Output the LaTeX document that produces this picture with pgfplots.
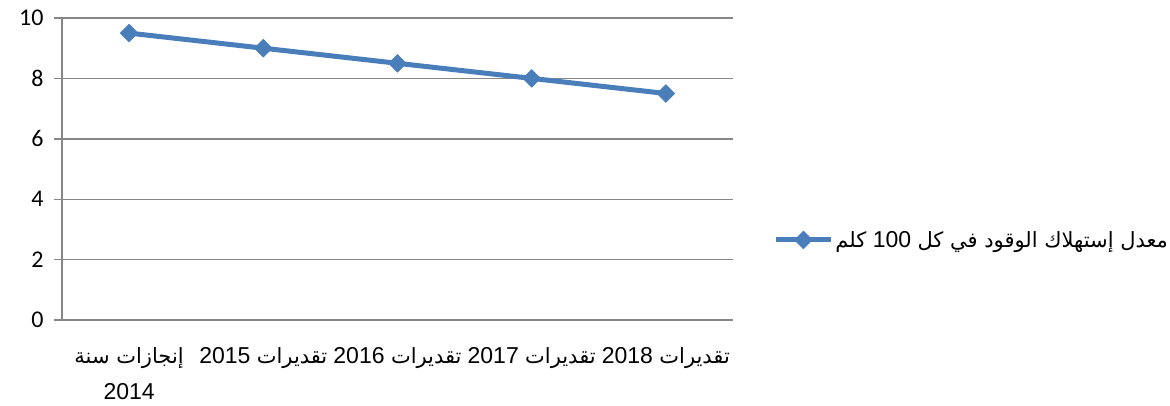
\documentclass[border=0pt]{standalone}
\usepackage{pgfplots}
\pgfplotsset{compat=1.18}
\usepackage{fontspec}
\setmainfont{Liberation Sans}
\newfontfamily\arabicfont[Script=Arabic]{DejaVu Sans}
\newfontfamily\calfont{Carlito}
\TeXXeTstate=1
\definecolor{serblue}{HTML}{4A7EBB}
\definecolor{gridgray}{HTML}{868686}
\pgfplotstableread{
x y
0 9.5
1 9.0
2 8.5
3 8.0
4 7.5
}\fueltable
\newcommand{\ar}[1]{{\arabicfont\fontsize{21}{26}\selectfont #1}}
\begin{document}
\begin{tikzpicture}
\path[use as bounding box] (0,0) rectangle (1170pt,405pt);
\begin{axis}[
  at={(62pt,85pt)}, anchor=south west,
  scale only axis, width=671pt, height=302pt,
  xmin=-0.5, xmax=4.5, ymin=0, ymax=10,
  axis x line*=bottom, axis y line*=left,
  axis line style={gridgray, line width=1.4pt, -},
  xtick={0,1,2,3,4},
  xticklabels={{\beginR\ar{إنجازات سنة}\endR\\[4pt]2014},{\beginR\ar{تقديرات} 2015\endR},{\beginR\ar{تقديرات} 2016\endR},{\beginR\ar{تقديرات} 2017\endR},{\beginR\ar{تقديرات} 2018\endR}},
  x tick style={draw=none},
  extra x ticks={-0.5,0.5,1.5,2.5,3.5,4.5},
  extra x tick labels={},
  extra x tick style={major tick length=8pt, tick align=outside, tick style={gridgray, line width=1.4pt}, grid=none},
  ytick={0,2,4,6,8,10},
  ymajorgrids,
  major grid style={gridgray, line width=1.4pt},
  y tick style={gridgray, line width=1.4pt},
  major tick length=8pt, tick align=outside,
  yticklabel style={font=\fontsize{24}{26}\selectfont\calfont, xshift=-7pt},
  xticklabel style={align=center, yshift=-16pt, font=\fontsize{23}{32}\selectfont},
  yticklabel={\pgfmathprintnumber[assume math mode=true]{\tick}},
  legend style={at={(1.06,0.265)}, anchor=west, draw=none, fill=none, font=\fontsize{23}{26}\selectfont, inner sep=0pt},
  legend cell align=left,
  legend image code/.code={\draw[#1, mark repeat=2, mark phase=2] plot coordinates {(0pt,0pt)(27.5pt,0pt)(55pt,0pt)};},
  clip=false,
]
\addplot[serblue, line width=5pt, mark=square*, mark size=6.3pt, mark options={rotate=45, line width=0.5pt, fill=serblue, draw=serblue}] table[x=x,y=y] {\fueltable};
\addlegendentry{\beginR\ar{معدل إستهلاك الوقود في كل} 100 \ar{كلم}\endR}
\end{axis}
\end{tikzpicture}
\end{document}
